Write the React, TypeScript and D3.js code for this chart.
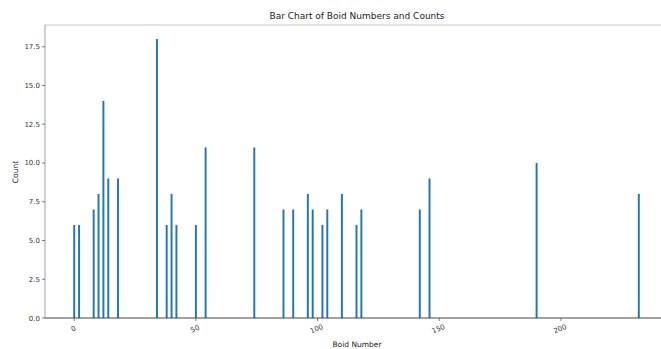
import * as d3 from 'd3';

const boidNumbers = [0, 2, 8, 10, 12, 14, 18, 34, 38, 40, 42, 50, 54, 74, 86, 90, 96, 98, 102, 104, 110, 116, 118, 142, 146, 190, 232];
const counts = [6, 6, 7, 8, 14, 9, 9, 18, 6, 8, 6, 6, 11, 11, 7, 7, 8, 7, 6, 7, 8, 6, 7, 7, 9, 10, 8];
const xTicks = [0, 50, 100, 150, 200];
const yTicks = [0, 2.5, 5, 7.5, 10, 12.5, 15, 17.5];

export default function App() {
  const width = 661;
  const height = 349;
  const margin = { top: 25, left: 45, bottom: 318 };
  const x = d3.scaleLinear().domain([-12, 244]).range([margin.left, 668]);
  const y = d3.scaleLinear().domain([0, 18.9]).range([margin.bottom, margin.top]);
  const barW = x(0.8) - x(0);
  const font = 'DejaVu Sans, sans-serif';

  return (
    <svg width={width} height={height} style={{ position: 'absolute', left: 0, top: 0 }} fontFamily={font}>
      <rect width={width} height={height} fill="#fff" />
      <text x={357} y={19} textAnchor="middle" fontSize={9} fill="#222">Bar Chart of Boid Numbers and Counts</text>
      {boidNumbers.map((b, i) => (
        <rect key={b} x={x(b) - barW / 2} y={y(counts[i])} width={barW} height={y(0) - y(counts[i])} fill="#1f77b4" />
      ))}
      <line x1={margin.left} x2={width} y1={margin.top} y2={margin.top} stroke="#c8c8c8" />
      <line x1={margin.left} x2={margin.left} y1={margin.top} y2={margin.bottom} stroke="#a0a0a0" />
      <line x1={margin.left} x2={width} y1={margin.bottom} y2={margin.bottom} stroke="#444" />
      {yTicks.map((t) => (
        <g key={t} transform={`translate(${margin.left},${y(t)})`}>
          <line x1={-3} x2={0} stroke="#555" strokeWidth={0.8} />
          <text x={-5} y={2.5} textAnchor="end" fontSize={7} fill="#333">{t.toFixed(1)}</text>
        </g>
      ))}
      {xTicks.map((t) => (
        <g key={t} transform={`translate(${x(t)},${margin.bottom})`}>
          <line y1={0} y2={3} stroke="#555" strokeWidth={0.8} />
          <text transform="translate(0,13) rotate(-22)" textAnchor="middle" fontSize={7} fill="#333">{t}</text>
        </g>
      ))}
      <text x={357} y={347} textAnchor="middle" fontSize={7.5} fill="#222">Boid Number</text>
      <text transform="translate(18,172) rotate(-90)" textAnchor="middle" fontSize={7.5} fill="#222">Count</text>
    </svg>
  );
}
